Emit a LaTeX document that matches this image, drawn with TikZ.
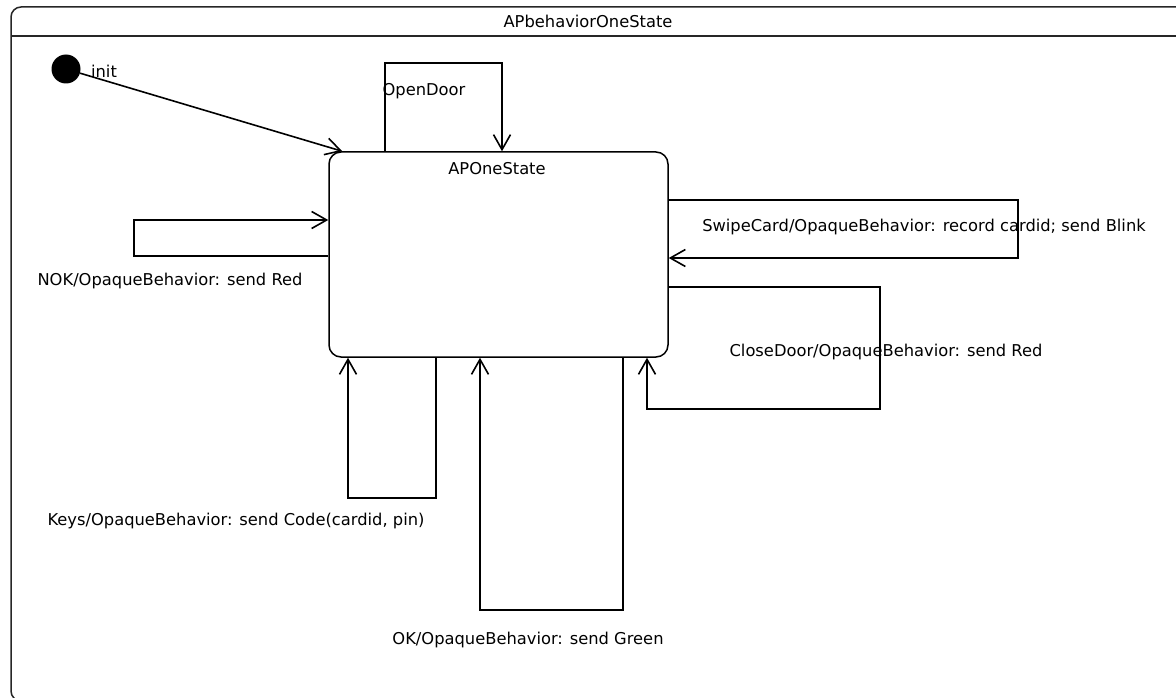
\documentclass[tikz,border=0pt]{standalone}
\usepackage{fontspec}
\setsansfont{DejaVu Sans}
\usepackage{tikz}
\usetikzlibrary{arrows.meta,calc,positioning}
\tikzset{>={Straight Barb[length=15pt,width=17pt]}}
\tikzset{
  frame/.style={draw=black!85,line width=1.5pt,rounded corners=10pt},
  state/.style={draw,line width=1.5pt,rounded corners=12pt,minimum width=339pt,minimum height=205pt,inner sep=0pt},
  initial/.style={circle,fill=black,minimum size=29pt,inner sep=0pt},
  trans/.style={->,line width=1.6pt},
  lbl/.style={inner sep=0pt,font=\sffamily\fontsize{16.3}{19}\selectfont}
}

\begin{document}
\begin{tikzpicture}[x=1pt,y=-1pt]
  \useasboundingbox (0,0) rectangle (1176,698);
  \clip (0,0) rectangle (1176,698);

  \draw[frame] (11,7) rectangle (1195,701); % behavior frame
  \draw[black!85,line width=1.5pt] (11,36) -- (1195,36);
  \node[lbl] (fname) at (588,21) {APbehaviorOneState};

  \node[initial] (init) at (66,69) {};
  \node[lbl] (initlbl) at (104,71) {init};
  \node[state] (st) at (498.5,254.5) {};
  \node[lbl] (stname) at (497,169) {APOneState};

  % transitions
  \draw[trans] (init) -- ($(st.north west)+(14,0)$);
  \draw[trans] (385,0 |- st.north) |- (502,63) -- (502,0 |- st.north);
  \draw[trans] (st.west |- 0,256) -| (134,220) -- (st.west |- 0,220);
  \draw[trans] (st.east |- 0,200) -| (1018,258) -- (st.east |- 0,258);
  \draw[trans] (st.east |- 0,287) -| (880,409) -| (647,0 |- st.south);
  \draw[trans] (436,0 |- st.south) |- (348,498) -- (348,0 |- st.south);
  \draw[trans] (623,0 |- st.south) |- (480,610) -- (480,0 |- st.south);

  \node[lbl] (opendoor) at (424,91) {OpenDoor};
  \node[lbl] (nok) at (170,281) {NOK/OpaqueBehavior: send Red};
  \node[lbl] (swipe) at (924,227) {SwipeCard/OpaqueBehavior: record cardid; send Blink};
  \node[lbl] (closedoor) at (886,352) {CloseDoor/OpaqueBehavior: send Red};
  \node[lbl] (keys) at (236,521) {Keys/OpaqueBehavior: send Code(cardid, pin)};
  \node[lbl] (ok) at (528,640) {OK/OpaqueBehavior: send Green};
\end{tikzpicture}
\end{document}
